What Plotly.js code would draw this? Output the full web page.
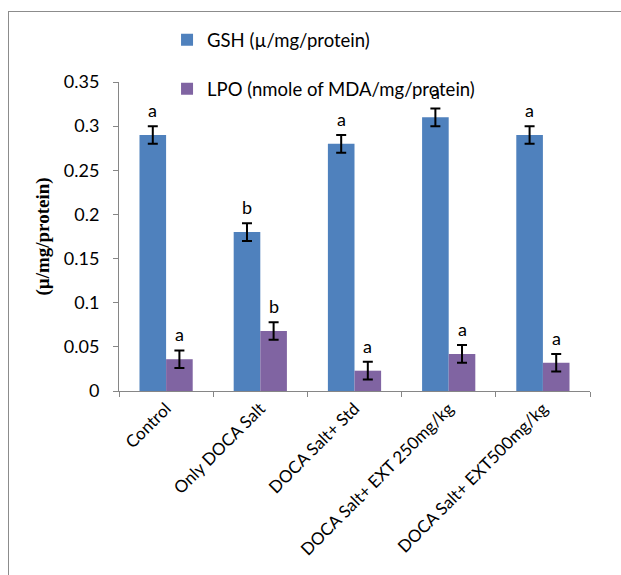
<!DOCTYPE html>
<html>
<head>
<meta charset="utf-8">
<script src="https://cdn.plot.ly/plotly-3.0.1.min.js"></script>
<style>
  html, body { margin: 0; padding: 0; background: #fff; }
  #wrap { position: relative; width: 621px; height: 575px; overflow: hidden; }
  #chart { width: 621px; height: 575px; }
  #frame { position: absolute; left: 8px; top: 11px; width: 800px; height: 800px;
           border: 1px solid #8c8c8c; pointer-events: none; }
</style>
</head>
<body>
<div id="wrap">
  <div id="chart"></div>
  <div id="frame"></div>
</div>
<script>
// ---- data ----
const categories = ["Control", "Only DOCA Salt", "DOCA Salt+ Std",
                    "DOCA Salt+ EXT 250mg/kg", "DOCA Salt+ EXT500mg/kg"];
const gshName = "GSH (µ/mg/protein)";
const lpoName = "LPO (nmole of MDA/mg/protein)";
const gshValues = [0.29, 0.18, 0.28, 0.31, 0.29];
const gshErrors = [0.01, 0.01, 0.01, 0.01, 0.01];
const lpoValues = [0.036, 0.068, 0.023, 0.042, 0.032];
const lpoErrors = [0.01, 0.01, 0.01, 0.01, 0.01];
const gshLetters = ["a", "b", "a", "a", "a"];
const lpoLetters = ["a", "b", "a", "a", "a"];
const yTitle = "(µ/mg/protein)";

// ---- chart ----
const FONT = "Lato, 'Open Sans', sans-serif";
const errStyle = (arr) => ({type: "data", array: arr, visible: true,
                             color: "#000", thickness: 2, width: 5});

const traces = [
  {type: "bar", name: gshName, x: categories, y: gshValues,
   error_y: errStyle(gshErrors), marker: {color: "#4F81BD"},
   legendgroup: "g1", hoverinfo: "none"},
  {type: "bar", name: lpoName, x: categories, y: lpoValues,
   error_y: errStyle(lpoErrors), marker: {color: "#8064A2"},
   legendgroup: "g2", hoverinfo: "none"}
];

const BAR_SHIFT = 13.3;
const annotations = [];
categories.forEach((c, i) => {
  annotations.push({x: c, y: gshValues[i] + gshErrors[i], xref: "x", yref: "y",
    text: gshLetters[i], showarrow: false, xshift: -BAR_SHIFT, yanchor: "bottom", yshift: 3,
    font: {family: FONT, size: 18, color: "#000"}});
  annotations.push({x: c, y: lpoValues[i] + lpoErrors[i], xref: "x", yref: "y",
    text: lpoLetters[i], showarrow: false, xshift: BAR_SHIFT, yanchor: "bottom", yshift: 3,
    font: {family: FONT, size: 18, color: "#000"}});
});

const layout = {
  width: 621, height: 575,
  margin: {l: 119, r: 31, t: 82, b: 184},
  paper_bgcolor: "#fff", plot_bgcolor: "#fff",
  barmode: "group", bargap: 0.435, bargroupgap: 0,
  font: {family: FONT, size: 17, color: "#000"},
  showlegend: true,
  legend: {x: 0.102, y: 1.197, xanchor: "left", yanchor: "top",
           orientation: "v", tracegroupgap: 22,
           font: {family: FONT, size: 18.5, color: "#000"},
           bgcolor: "rgba(0,0,0,0)", itemwidth: 30},
  xaxis: {type: "category", showline: true, linecolor: "#868686", linewidth: 1,
          ticks: "outside", tickson: "boundaries", ticklen: 5, tickcolor: "#868686",
          tickangle: -45, showgrid: false, zeroline: false, automargin: false,
          tickfont: {family: FONT, size: 17, color: "#000"}},
  yaxis: {range: [0, 0.35], dtick: 0.05, showline: true, linecolor: "#868686", linewidth: 1,
          ticks: "outside", ticklen: 5, tickcolor: "#868686", showgrid: false,
          zeroline: false, automargin: false, ticklabelstandoff: 10,
          tickfont: {family: FONT, size: 18, color: "#000"},
          title: {text: yTitle, standoff: 9,
                  font: {family: "'Liberation Serif', 'Times New Roman', serif", size: 19, color: "#000", weight: "bold"}}},
  annotations: annotations
};

Plotly.newPlot("chart", traces, layout, {staticPlot: true, displayModeBar: false});
</script>
</body>
</html>
